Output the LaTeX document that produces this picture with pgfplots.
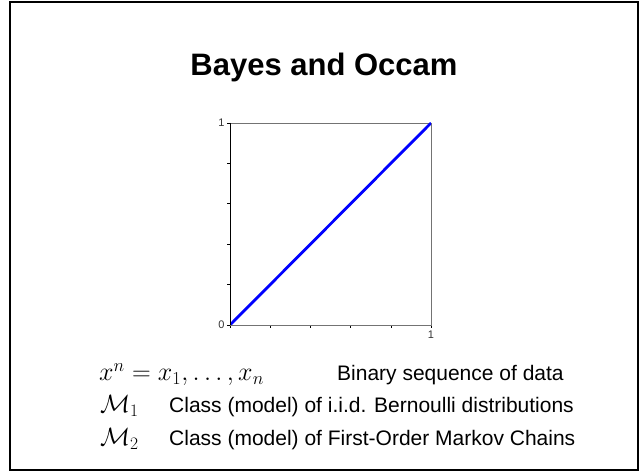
\RequirePackage{fix-cm}
\documentclass[border=0pt]{standalone}
\usepackage[no-math]{fontspec}
\setmainfont{Liberation Sans}
\usepackage{pgfplots}
\pgfplotsset{compat=1.18}

\begin{document}
\begin{tikzpicture}[x=1pt,y=1pt]
\path[use as bounding box] (0,0) rectangle (640,473);
\draw[line width=2pt] (10,3) rectangle (638,471);
\node[anchor=base, inner sep=0, font=\bfseries\fontsize{31}{31}\selectfont] at (324,397) {Bayes and Occam};

\begin{axis}[
    at={(230pt,148pt)}, anchor=south west,
    scale only axis,
    width=201pt, height=202pt,
    xmin=0, xmax=1, ymin=0, ymax=1,
    xtick={0,0.2,0.4,0.6,0.8,1},
    ytick={0,0.2,0.4,0.6,0.8,1},
    xticklabels={,,,,,1},
    yticklabels={0,,,,,1},
    xtick pos=bottom, ytick pos=left,
    tick align=outside,
    major tick length=3pt,
    tick style={black, line width=0.6pt},
    axis line style={black!55, line width=0.8pt},
    tick label style={font=\fontsize{11}{11}\selectfont, text=black!80},
    /pgf/number format/assume math mode=true,
    xticklabel style={yshift=1pt},
    yticklabel style={xshift=1pt},
]
\addplot[blue, line width=2.8pt] coordinates {(0,0) (1,1)};
\draw[black, line width=0.8pt] (rel axis cs:0,1) -- (rel axis cs:0,0) -- (rel axis cs:1,0);
\end{axis}

\begin{scope}[every node/.style={anchor=base west, inner sep=0}]
\node[font=\fontsize{26}{26}\selectfont] at (99,92) {$x^n = x_1,\ldots,x_n$};
\node[font=\fontsize{21}{21}\selectfont] at (337,92) {Binary sequence of data};
\node[font=\fontsize{25}{25}\selectfont] at (100,60) {$\mathcal{M}_1$};
\node[font=\fontsize{21}{21}\selectfont] at (169,60) {Class (model) of i.i.d. Bernoulli distributions};
\node[font=\fontsize{25}{25}\selectfont] at (100,27) {$\mathcal{M}_2$};
\node[font=\fontsize{21}{21}\selectfont] at (169,27) {Class (model) of First-Order Markov Chains};
\end{scope}
\end{tikzpicture}
\end{document}
